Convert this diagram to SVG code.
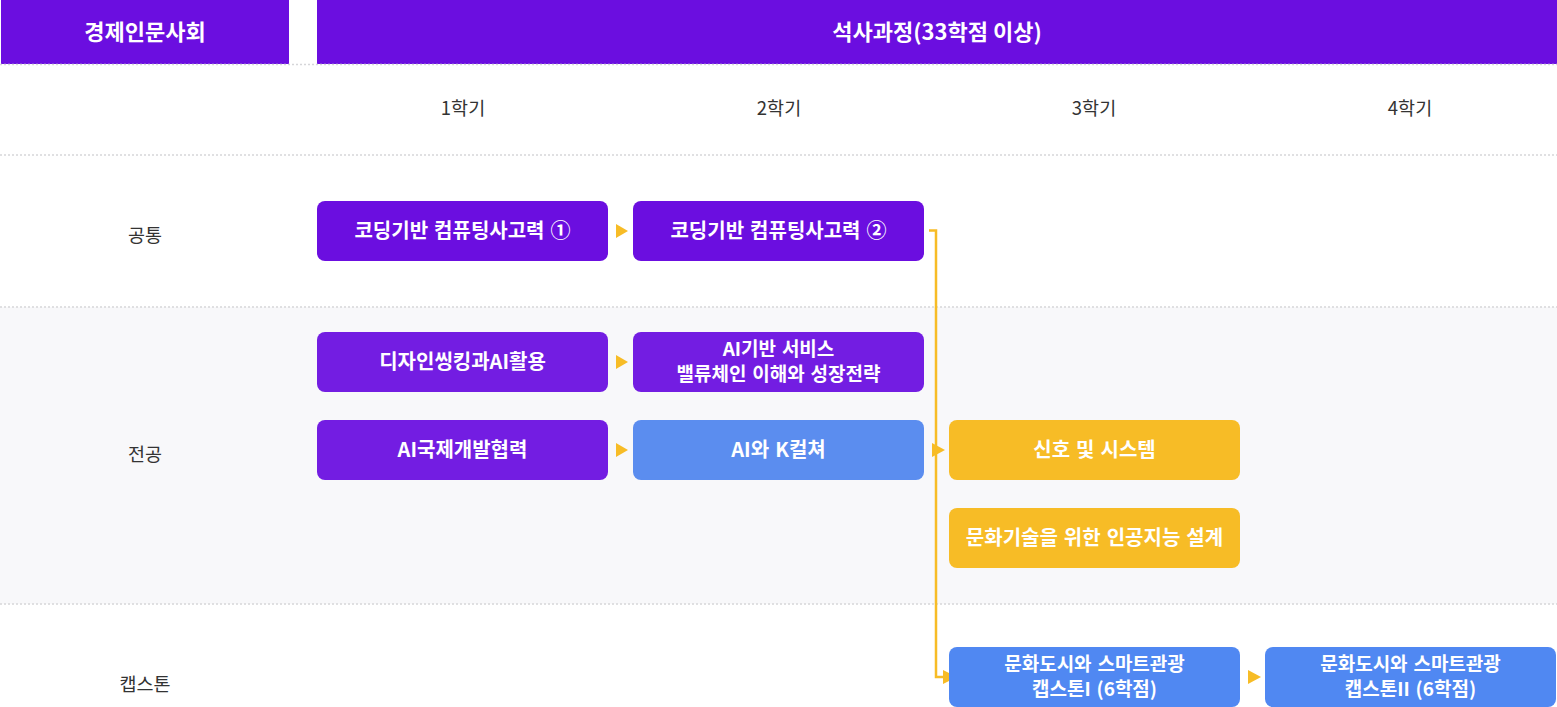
<svg xmlns="http://www.w3.org/2000/svg" width="1557" height="707" viewBox="0 0 1557 707">
<defs>
<style>
.hd{fill:#6b0ee0}
.ht{font-family:"Noto Sans CJK KR","Noto Sans",sans-serif;font-size:22px;font-weight:700;fill:#fff;text-anchor:middle}
.lb{font-family:"Noto Sans CJK KR","Noto Sans",sans-serif;font-size:18.5px;fill:#333;text-anchor:middle}
.nt{font-family:"Noto Sans CJK KR","Noto Sans",sans-serif;font-size:20px;font-weight:700;fill:#fff;text-anchor:middle;word-spacing:1.5px}
.n2{font-size:19px}
.dl{stroke:#d6d6d9;stroke-width:1.5;stroke-dasharray:2 2;fill:none}
.p{fill:#6b0ee0}
.p2{fill:#731de2}
.b{fill:#5b8def}
.y{fill:#f7bc26}
.c{fill:#5088f2}
.ar{fill:#f7bc26}
.cn{stroke:#f7bc26;stroke-width:2.5;fill:none}
</style>
</defs>
<rect x="0" y="307" width="1557" height="297" fill="#f8f8fa"/>
<g id="header">
<rect class="hd" x="1" y="0" width="288" height="64"/>
<text class="ht" x="145" y="40">경제인문사회</text>
<rect class="hd" x="317" y="0" width="1240" height="64"/>
<text class="ht" x="937" y="40">석사과정(33학점 이상)</text>
</g>
<g id="grid">
<line class="dl" x1="0" y1="64.5" x2="1557" y2="64.5"/>
<line class="dl" x1="0" y1="155" x2="1557" y2="155"/>
<line class="dl" x1="0" y1="307" x2="1557" y2="307"/>
<line class="dl" x1="0" y1="604" x2="1557" y2="604"/>
</g>
<g id="labels">
<text class="lb" x="463" y="115">1학기</text>
<text class="lb" x="779" y="115">2학기</text>
<text class="lb" x="1094" y="115">3학기</text>
<text class="lb" x="1410" y="115">4학기</text>
<text class="lb" x="145" y="242">공통</text>
<text class="lb" x="145" y="461">전공</text>
<text class="lb" x="145" y="691">캡스톤</text>
</g>
<g id="connectors">
<polygon class="ar" points="616,224 628,231 616,238"/>
<polygon class="ar" points="616,355 628,362 616,369"/>
<polygon class="ar" points="616,443 628,450 616,457"/>
<polyline class="cn" points="929,230.5 936,230.5 936,677 946,677"/>
<polygon class="ar" points="932,443 945,450 932,457"/>
<polygon class="ar" points="943,670 957,677 943,684"/>
<polygon class="ar" points="1248,670 1261,677 1248,684"/>
</g>
<g id="n1"><rect class="p" x="317" y="201" width="291" height="60" rx="8"/><text class="nt" x="462.5" y="238">코딩기반 컴퓨팅사고력 ①</text></g>
<g id="n2"><rect class="p" x="633" y="201" width="291" height="60" rx="8"/><text class="nt" x="778.5" y="238">코딩기반 컴퓨팅사고력 ②</text></g>
<g id="n3"><rect class="p2" x="317" y="332" width="291" height="60" rx="8"/><text class="nt" x="462.5" y="369">디자인씽킹과AI활용</text></g>
<g id="n4"><rect class="p2" x="633" y="332" width="291" height="60" rx="8"/><text class="nt n2" x="778.5" y="356">AI기반 서비스</text><text class="nt n2" x="778.5" y="381">밸류체인 이해와 성장전략</text></g>
<g id="n5"><rect class="p2" x="317" y="420" width="291" height="60" rx="8"/><text class="nt" x="462.5" y="457">AI국제개발협력</text></g>
<g id="n6"><rect class="b" x="633" y="420" width="291" height="60" rx="8"/><text class="nt" x="778.5" y="457">AI와 K컬쳐</text></g>
<g id="n7"><rect class="y" x="949" y="420" width="291" height="60" rx="8"/><text class="nt" x="1094.5" y="457">신호 및 시스템</text></g>
<g id="n8"><rect class="y" x="949" y="508" width="291" height="60" rx="8"/><text class="nt" x="1094.5" y="545">문화기술을 위한 인공지능 설계</text></g>
<g id="n9"><rect class="c" x="949" y="647" width="291" height="60" rx="8"/><text class="nt n2" x="1094.5" y="671">문화도시와 스마트관광</text><text class="nt n2" x="1094.5" y="696">캡스톤I (6학점)</text></g>
<g id="n10"><rect class="c" x="1265" y="647" width="291" height="60" rx="8"/><text class="nt n2" x="1410.5" y="671">문화도시와 스마트관광</text><text class="nt n2" x="1410.5" y="696">캡스톤II (6학점)</text></g>
</svg>
